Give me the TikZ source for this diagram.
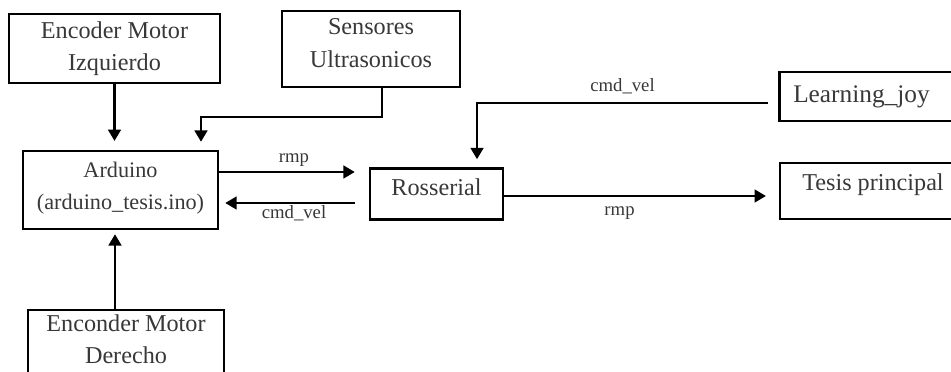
\documentclass[tikz,border=0pt]{standalone}
\usepackage{fontspec}
\setmainfont{Liberation Serif}
\usetikzlibrary{arrows.meta}

\begin{document}
\begin{tikzpicture}[x = 0.025cm, y = -0.025cm,
		block/.style = {draw, line width = 1.8pt, align = center, text = black!78,
			font = \fontsize{17.2}{22.8}\selectfont, inner sep = 0pt},
		flow/.style = {line width = 1.7pt, -{Triangle[length = 8pt, width = 9pt]}},
		tag/.style = {text = black!78, font = \fontsize{13.3}{15}\selectfont}]
		\clip (0, 0) rectangle (951, 372);
		%%%%%%%%%%%%%
		\node[block, minimum width = 5.275cm, minimum height = 1.725cm] (izq) at (114.5, 48.5) {Encoder Motor\\Izquierdo};
		\node[block, minimum width = 4.45cm, minimum height = 1.9cm, text depth = 0.3cm] (sens) at (371, 49) {Sensores\\Ultrasonicos};
		\node[block, minimum width = 4.875cm, minimum height = 1.95cm, font = \fontsize{15.8}{22.8}\selectfont, text depth = 0.2cm] (ard) at (120.5, 190) {Arduino\\(arduino\_tesis.ino)};
		\node[block, minimum width = 3.325cm, minimum height = 1.275cm, text depth = 0.35cm] (ross) at (436.5, 194) {Rosserial};
		\node[block, minimum height = 1.225cm, anchor = west, align = left, inner xsep = 0.35cm, text width = 5.5cm, font = \fontsize{18}{22.8}\selectfont] (joy) at (778, 96.5) {Learning\_joy};
		\node[block, minimum width = 4.65cm, minimum height = 1.4cm, text depth = 0.43cm] (tesis) at (873, 191) {Tesis principal};
		\node[block, minimum width = 4.9cm, minimum height = 1.75cm, text depth = 0.3cm] (der) at (126, 345) {Enconder Motor\\Derecho};
		%%%%%%%%%%%%%
		\coordinate (sensB) at ([xshift = 0.275cm]sens.south);
		\coordinate (sbend) at (201, 117);
		\coordinate (ardR) at ([yshift = 0.45cm]ard.east);
		\coordinate (ardL) at ([yshift = -0.325cm]ard.east);
		\coordinate (joyL) at ([xshift = -0.25cm, yshift = -0.16cm]joy.west);
		\coordinate (rossT) at ([xshift = 1.0125cm]ross.north);
		\coordinate (derT) at ([xshift = -0.275cm]der.north);
		\coordinate (rossR) at ([yshift = -0.05cm]ross.east);
		%%%%%%%%%%%%%
		\draw[flow, shorten > = 0.22cm] (izq.south) -- (izq.south |- ard.north);
		\draw[flow, shorten > = 0.2cm] (sensB) |- (sbend) -- (sbend |- ard.north);
		\draw[flow, shorten > = 0.35cm] (ardR) -- node[tag, above] {rmp} (ardR -| ross.west);
		\draw[flow, shorten > = 0.15cm] (ardL -| ross.west) [shorten < = 0.35cm] -- node[tag, below, inner sep = 1pt] {cmd\_vel} (ardL);
		\draw[flow, shorten > = 0.2cm] (joyL) -| node[tag, above, pos = 0.25, yshift = 0.08cm] {cmd\_vel} (rossT);
		\draw[flow, shorten > = 0.32cm] (rossR) -- node[tag, below, pos = 0.42, yshift = -0.12cm] {rmp} (rossR -| tesis.west);
		\draw[flow, shorten > = 0.1cm] (derT) -- (derT |- ard.south);
\end{tikzpicture}
\end{document}
